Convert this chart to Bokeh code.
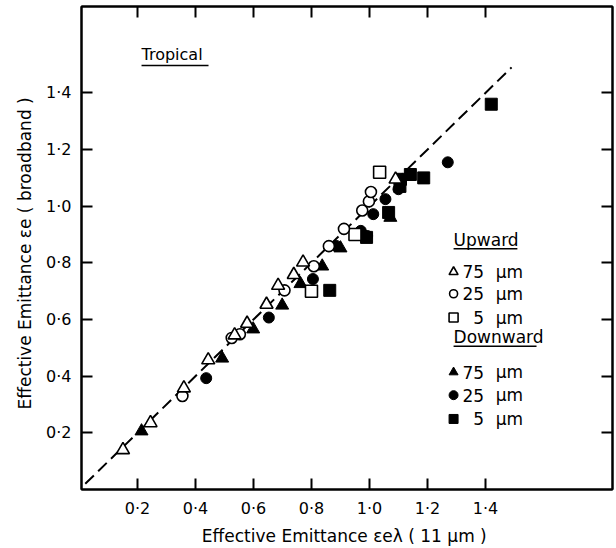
from bokeh.plotting import figure
from bokeh.models import LinearAxis, FixedTicker, CustomJSTickFormatter, Range1d
from bokeh.core.properties import value
from bokeh.embed import file_html
from bokeh.resources import INLINE

FONT = "DejaVu Sans"

# ---- data ----
up75_x = [0.15, 0.245, 0.36, 0.444, 0.535, 0.578, 0.645, 0.685, 0.739, 0.771, 1.09]
up75_y = [0.14, 0.235, 0.358, 0.457, 0.545, 0.586, 0.653, 0.72, 0.758, 0.802, 1.095]
up25_x = [0.355, 0.525, 0.553, 0.707, 0.808, 0.86, 0.912, 0.975, 0.998, 1.005]
up25_y = [0.33, 0.535, 0.548, 0.703, 0.788, 0.859, 0.92, 0.985, 1.017, 1.05]
up5_x = [0.80, 0.95, 1.035]
up5_y = [0.70, 0.90, 1.12]
dn75_x = [0.214, 0.492, 0.599, 0.699, 0.762, 0.837, 0.90, 1.072]
dn75_y = [0.206, 0.463, 0.566, 0.65, 0.726, 0.788, 0.852, 0.96]
dn25_x = [0.437, 0.653, 0.805, 0.885, 0.97, 0.992, 1.013, 1.055, 1.10, 1.27]
dn25_y = [0.393, 0.607, 0.743, 0.86, 0.913, 0.895, 0.972, 1.025, 1.06, 1.155]
dn5_x = [0.863, 0.99, 1.066, 1.105, 1.107, 1.141, 1.187, 1.42]
dn5_y = [0.703, 0.89, 0.978, 1.07, 1.095, 1.112, 1.10, 1.36]

line_x = [0.02, 1.49]
line_y = [0.02, 1.49]

ticks = [0.2, 0.4, 0.6, 0.8, 1.0, 1.2, 1.4]

legend_sizes = ["75", "25", "5"]

p = figure(width=616, height=548, output_backend="svg", toolbar_location=None,
           x_range=Range1d(0.007, 1.838), y_range=Range1d(0.0, 1.705),
           min_border_left=81, min_border_right=4, min_border_top=6, min_border_bottom=55,
           x_axis_label="Effective Emittance  \u03b5e\u03bb ( 11 \u03bcm )",
           y_axis_label="Effective Emittance  \u03b5e  ( broadband )")
p.grid.visible = False
p.outline_line_color = "black"
p.outline_line_width = 2
p.background_fill_color = "white"
p.border_fill_color = "white"

fmt = CustomJSTickFormatter(code="return tick.toFixed(1).replace('.', '\u00b7');")
for ax in [p.xaxis[0], p.yaxis[0]]:
    ax.ticker = FixedTicker(ticks=ticks)
    ax.formatter = fmt
    ax.major_tick_in = 11
    ax.major_tick_out = 0
    ax.minor_tick_line_color = None
    ax.axis_line_width = 2
    ax.major_tick_line_width = 2
    ax.major_label_text_font = FONT
    ax.major_label_text_font_size = "16px"
    ax.major_label_text_color = "black"
    ax.axis_label_text_font = FONT
    ax.axis_label_text_font_size = "17px"
    ax.axis_label_text_font_style = "normal"
    ax.axis_label_text_color = "black"
p.xaxis[0].major_label_standoff = 9
p.xaxis[0].axis_label_standoff = 5
p.yaxis[0].major_label_standoff = 10
p.yaxis[0].axis_label_standoff = 8

for loc in ["right", "above"]:
    ax = LinearAxis(ticker=FixedTicker(ticks=ticks), major_tick_in=11, major_tick_out=0,
                    minor_tick_line_color=None, major_label_text_color=None,
                    major_label_text_font_size="1px",
                    axis_line_width=2, major_tick_line_width=2, major_label_standoff=0)
    p.add_layout(ax, loc)

p.line(line_x, line_y, line_color="black", line_width=2, line_dash="12 6")

OPEN = dict(fill_color="white", line_color="black", line_width=1.6)
FILL = dict(fill_color="black", line_color="black", line_width=1)

p.scatter(dn25_x, dn25_y, marker="circle", size=11, **FILL)
p.scatter(dn5_x, dn5_y, marker="square", size=12, **FILL)
p.scatter(dn75_x, dn75_y, marker="triangle", size=13, **FILL)
p.scatter(up5_x, up5_y, marker="square", size=12, **OPEN)
p.scatter(up25_x, up25_y, marker="circle", size=11, **OPEN)
p.scatter(up75_x, up75_y, marker="triangle", size=13, **OPEN)

# title inside
p.text([0.214], [1.535], text=["Tropical"], text_font=value(FONT), text_font_size="16px",
       text_baseline="middle", text_align="left", text_color="black")
p.segment([0.214], [1.497], [0.445], [1.497], line_color="black", line_width=1.5)

# legend
p.text([1.29], [0.88], text=["Upward"], text_font=value(FONT), text_font_size="17px",
       text_baseline="middle", text_align="left", text_color="black")
p.segment([1.29], [0.85], [1.51], [0.85], line_color="black", line_width=1.5)
p.text([1.29], [0.537], text=["Downward"], text_font=value(FONT), text_font_size="17px",
       text_baseline="middle", text_align="left", text_color="black")
p.segment([1.29], [0.506], [1.576], [0.506], line_color="black", line_width=1.5)

leg_x = 1.29
up_rows = [0.768, 0.691, 0.607]
dn_rows = [0.414, 0.333, 0.249]
p.scatter([leg_x], [up_rows[0]], marker="triangle", size=9, **OPEN)
p.scatter([leg_x], [up_rows[1]], marker="circle", size=8, **OPEN)
p.scatter([leg_x], [up_rows[2]], marker="square", size=9, **OPEN)
p.scatter([leg_x], [dn_rows[0]], marker="triangle", size=9, **FILL)
p.scatter([leg_x], [dn_rows[1]], marker="circle", size=9, **FILL)
p.scatter([leg_x], [dn_rows[2]], marker="square", size=9, **FILL)
rows = up_rows + dn_rows
p.text([1.395] * 6, rows, text=legend_sizes * 2, text_font=value(FONT), text_font_size="17px",
       text_baseline="middle", text_align="right", text_color="black")
p.text([1.435] * 6, rows, text=["\u03bcm"] * 6, text_font=value(FONT), text_font_size="17px",
       text_baseline="middle", text_align="left", text_color="black")

open("out.html", "w").write(file_html(p, INLINE))
